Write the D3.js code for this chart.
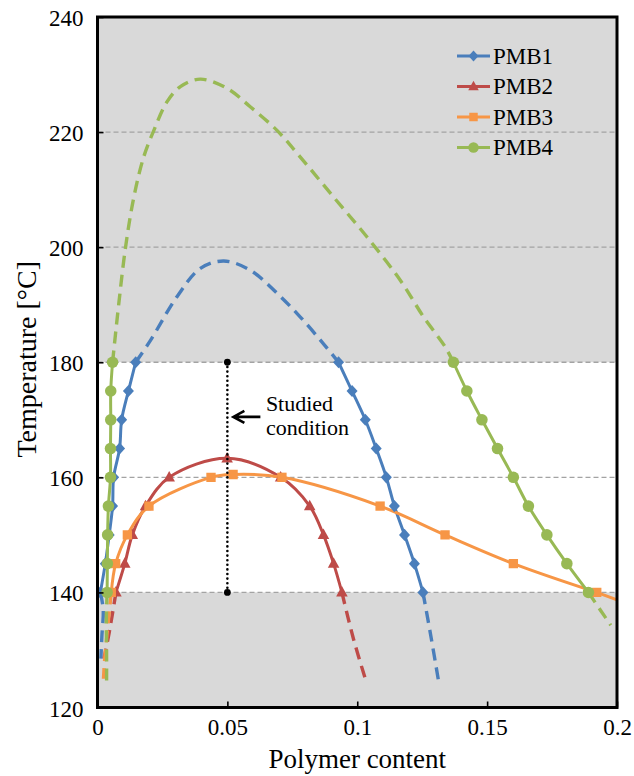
<!DOCTYPE html>
<html>
<head>
<meta charset="utf-8">
<script src="https://cdn.jsdelivr.net/npm/d3@7/dist/d3.min.js"></script>
<style>
  html, body { margin: 0; padding: 0; background: #fff; }
  svg text { font-family: "Liberation Serif", "Times New Roman", serif; fill: #000; }
</style>
</head>
<body>
<svg id="chart" width="634" height="776"></svg>
<script>
// ---- axis ticks ----
const xTicks = [0, 0.05, 0.1, 0.15, 0.2];
const xTickLabels = ["0", "0.05", "0.1", "0.15", "0.2"];
const yTicks = [120, 140, 160, 180, 200, 220, 240];
const gridLines = [140, 160, 180, 200, 220];
const whiteBand = [140, 180];

// ---- PMB1 (polymer content, temperature °C) ----
const pmb1Left = [[0.0011,140],[0.0030,145],[0.0045,150],[0.0058,155],[0.0062,160],[0.0085,165],[0.0093,170],[0.0119,175],[0.0147,180]];
const pmb1Right = [[0.0928,180],[0.0980,175],[0.1031,170],[0.1073,165],[0.1112,160],[0.1143,155],[0.1182,150],[0.1220,145],[0.1253,140]];
const pmb1Dome = [[0.0147,180],[0.0204,183.8],[0.0306,191.4],[0.0396,196.3],[0.0486,197.6],[0.0588,196.0],[0.0691,192.0],[0.0780,187.9],[0.0870,183.2],[0.0928,180]];
const pmb1LowLeft = [[0.0011,140],[0.0022,137],[0.0017,132.5],[0.0013,128.5]];
const pmb1LowRight = [[0.1253,140],[0.1285,132],[0.1313,124.6]];

// ---- PMB2 ----
const pmb2 = [[0.0071,140],[0.0105,145],[0.0134,150],[0.0185,155],[0.0276,160],[0.0499,163.3],[0.0705,160],[0.0817,155],[0.0870,150],[0.0909,145],[0.0941,140]];
const pmb2LowLeft = [[0.0071,140],[0.0045,133],[0.0025,128.5]];
const pmb2LowRight = [[0.0941,140],[0.0985,132],[0.1035,124.4]];

// ---- PMB3 ----
const pmb3 = [[0.0053,140],[0.0070,145],[0.0115,150],[0.0198,155],[0.0437,160],[0.0522,160.5],[0.0710,160],[0.1088,155],[0.1338,150],[0.1601,145],[0.1922,140]];
const pmb3Tail = [[0.1922,140],[0.2,138.7]];
const pmb3LowLeft = [[0.0053,140],[0.0035,132],[0.0027,128],[0.0023,125]];

// ---- PMB4 ----
const pmb4Left = [[0.0037,140],[0.0038,145],[0.0039,150],[0.0042,155],[0.0050,160],[0.0050,165],[0.0051,170],[0.0051,175],[0.0058,180]];
const pmb4Right = [[0.1370,180],[0.1422,175],[0.1480,170],[0.1540,165],[0.1601,160],[0.1659,155],[0.1730,150],[0.1807,145],[0.1890,140]];
const pmb4Dome = [[0.0058,180],[0.0082,190.2],[0.0108,200],[0.0140,208.7],[0.0178,215.7],[0.0217,220.3],[0.0268,225.3],[0.0319,227.9],[0.0396,229.2],[0.0499,227.6],[0.0588,224.4],[0.0691,220.3],[0.0780,215.7],[0.0909,208.7],[0.1037,201.8],[0.1165,194.3],[0.1255,187.9],[0.1338,182.7],[0.1370,180]];
const pmb4LowLeft = [[0.0037,140],[0.0034,135],[0.0035,130],[0.0035,124.5]];
const pmb4LowRight = [[0.1890,140],[0.1935,137],[0.1976,134.3]];

// ---- studied condition ----
const studiedX = 0.05;
const studiedRange = [140, 180];
const studiedArrowT = 170.5;

const names = ["PMB1", "PMB2", "PMB3", "PMB4"];
const colors = ["#4a7ebb", "#be4b48", "#f79646", "#98b954"];
const shapes = ["diamond", "triangle", "square", "circle"];

// ---- layout ----
const plotL = 97.5, plotR = 617, plotT = 17, plotB = 707.5;
const x = d3.scaleLinear().domain([0, 0.2]).range([plotL, plotR]);
const y = d3.scaleLinear().domain([120, 240]).range([plotB, plotT]);

const svg = d3.select("#chart");
svg.append("defs").append("clipPath").attr("id", "plotClip")
  .append("rect").attr("x", plotL).attr("y", plotT).attr("width", plotR - plotL).attr("height", plotB - plotT);

// background: grey with a white band between 140 and 180 °C
svg.append("rect").attr("x", plotL).attr("y", plotT).attr("width", plotR - plotL).attr("height", plotB - plotT).attr("fill", "#d9d9d9");
svg.append("rect").attr("x", plotL).attr("y", y(whiteBand[1])).attr("width", plotR - plotL)
  .attr("height", y(whiteBand[0]) - y(whiteBand[1])).attr("fill", "#ffffff");

// dashed horizontal gridlines
svg.append("g").selectAll("line").data(gridLines).join("line")
  .attr("x1", plotL).attr("x2", plotR).attr("y1", d => y(d)).attr("y2", d => y(d))
  .attr("stroke", "#a3a3a3").attr("stroke-width", 1.3).attr("stroke-dasharray", "5,3");

const line = d3.line().x(d => x(d[0])).y(d => y(d[1])).curve(d3.curveCatmullRom.alpha(0.5));
const plot = svg.append("g").attr("clip-path", "url(#plotClip)");

function dashed(data, color) {
  plot.append("path").datum(data).attr("d", line).attr("fill", "none")
    .attr("stroke", color).attr("stroke-width", 3.4).attr("stroke-dasharray", "12,7");
}
function solid(data, color) {
  plot.append("path").datum(data).attr("d", line).attr("fill", "none")
    .attr("stroke", color).attr("stroke-width", 3).attr("stroke-linejoin", "round");
}
function markerPath(shape, s) {
  if (shape === "diamond") return `M0,${-s*1.1}L${s},0L0,${s*1.1}L${-s},0Z`;
  if (shape === "triangle") return `M0,${-s*1.15}L${s*1.05},${s*0.75}L${-s*1.05},${s*0.75}Z`;
  if (shape === "square") return `M${-s*0.85},${-s*0.85}H${s*0.85}V${s*0.85}H${-s*0.85}Z`;
  return d3.arc()({innerRadius: 0, outerRadius: s*1.05, startAngle: 0, endAngle: 2*Math.PI});
}
function markers(data, i) {
  plot.append("g").selectAll("path").data(data).join("path")
    .attr("transform", d => `translate(${x(d[0])},${y(d[1])})`)
    .attr("d", markerPath(shapes[i], 5.5)).attr("fill", colors[i]);
}

// dashed extrapolations
dashed(pmb1Dome, colors[0]); dashed(pmb1LowLeft, colors[0]); dashed(pmb1LowRight, colors[0]);
dashed(pmb2LowLeft, colors[1]); dashed(pmb2LowRight, colors[1]);
dashed(pmb3LowLeft, colors[2]);
dashed(pmb4Dome, colors[3]); dashed(pmb4LowLeft, colors[3]); dashed(pmb4LowRight, colors[3]);

// measured branches
solid(pmb1Left, colors[0]); solid(pmb1Right, colors[0]);
solid(pmb2, colors[1]);
solid(pmb3, colors[2]); solid(pmb3Tail, colors[2]);
solid(pmb4Left, colors[3]); solid(pmb4Right, colors[3]);

markers(pmb1Left, 0); markers(pmb1Right, 0);
markers(pmb2, 1);
markers(pmb3, 2);
markers(pmb4Left, 3); markers(pmb4Right, 3);

// studied condition: dotted vertical with end dots and labelled arrow
svg.append("line").attr("x1", x(studiedX)).attr("x2", x(studiedX))
  .attr("y1", y(studiedRange[0])).attr("y2", y(studiedRange[1]))
  .attr("stroke", "#000").attr("stroke-width", 2.6).attr("stroke-linecap", "round").attr("stroke-dasharray", "0,4.6");
svg.append("g").selectAll("circle").data(studiedRange).join("circle")
  .attr("cx", x(studiedX)).attr("cy", d => y(d)).attr("r", 3.4).attr("fill", "#000");
const arrowY = y(studiedArrowT);
const ax0 = x(studiedX) + 6, ax1 = x(studiedX) + 33;
svg.append("path")
  .attr("d", `M${ax1},${arrowY}H${ax0}M${ax0 + 11},${arrowY - 6}L${ax0},${arrowY}L${ax0 + 11},${arrowY + 6}`)
  .attr("fill", "none").attr("stroke", "#000").attr("stroke-width", 2.6);
svg.append("text").attr("x", x(studiedX) + 38.5).attr("y", arrowY - 5.5).attr("font-size", 22).text("Studied");
svg.append("text").attr("x", x(studiedX) + 38.5).attr("y", arrowY + 18).attr("font-size", 22).text("condition");

// plot frame
svg.append("rect").attr("x", plotL).attr("y", plotT).attr("width", plotR - plotL).attr("height", plotB - plotT)
  .attr("fill", "none").attr("stroke", "#000").attr("stroke-width", 3);

// axes with inward ticks
const yAxis = svg.append("g").attr("transform", `translate(${plotL},0)`)
  .call(d3.axisLeft(y).tickValues(yTicks).tickSizeInner(-6).tickSizeOuter(0).tickPadding(14));
yAxis.select(".domain").remove();
yAxis.selectAll("line").attr("stroke", "#000").attr("stroke-width", 1.6);
yAxis.selectAll("text").attr("font-size", 23).attr("font-family", null).attr("dy", "0.37em");

const xAxis = svg.append("g").attr("transform", `translate(0,${plotB})`)
  .call(d3.axisBottom(x).tickValues(xTicks).tickFormat((d, i) => xTickLabels[i]).tickSizeInner(-6).tickSizeOuter(0));
xAxis.select(".domain").remove();
xAxis.selectAll("line").attr("stroke", "#000").attr("stroke-width", 1.6);
xAxis.selectAll("text").attr("font-size", 23).attr("font-family", null).attr("y", 27.5).attr("dy", 0);

// axis titles
svg.append("text").attr("x", (plotL + plotR) / 2).attr("y", 768).attr("text-anchor", "middle")
  .attr("font-size", 27).text("Polymer content");
svg.append("text").attr("transform", `translate(36,${(plotT + plotB) / 2 - 3}) rotate(-90)`)
  .attr("text-anchor", "middle").attr("font-size", 28).text("Temperature [°C]");

// legend
const legend = svg.append("g").selectAll("g").data(names).join("g")
  .attr("transform", (d, i) => `translate(457,${56 + i * 30.5})`);
legend.append("line").attr("x1", 0).attr("x2", 33).attr("stroke", (d, i) => colors[i]).attr("stroke-width", 3);
legend.append("path").attr("transform", "translate(16.5,0)")
  .attr("d", (d, i) => markerPath(shapes[i], 5)).attr("fill", (d, i) => colors[i]);
legend.append("text").attr("x", 36).attr("dy", "0.33em").attr("font-size", 23).text(d => d);
</script>
</body>
</html>
